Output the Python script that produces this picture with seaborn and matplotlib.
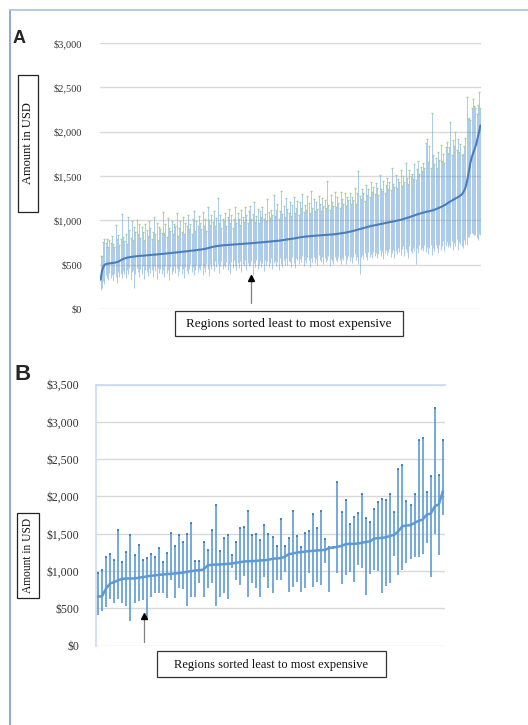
import numpy as np
import pandas as pd
import matplotlib
matplotlib.use("Agg")
import matplotlib.pyplot as plt
import seaborn as sns
from matplotlib.patches import Rectangle

# ---- panel A: 306 regions, mean cost (sorted) with spread up to max / down to min
mean_a = [
    330, 420, 470, 495, 505, 510, 512, 514, 516, 518,
    520, 522, 524, 528, 533, 540, 548, 556, 563, 569,
    574, 578, 581, 584, 586, 588, 590, 592, 594, 596,
    597, 598, 600, 601, 602, 603, 604, 606, 607, 608,
    609, 610, 611, 612, 614, 615, 617, 618, 619, 620,
    622, 623, 625, 626, 628, 629, 631, 632, 634, 635,
    637, 638, 640, 641, 643, 644, 646, 647, 649, 651,
    653, 655, 656, 658, 659, 661, 662, 664, 666, 667,
    669, 671, 673, 675, 678, 682, 686, 690, 694, 698,
    701, 704, 707, 709, 711, 713, 715, 716, 718, 719,
    720, 721, 722, 723, 724, 725, 726, 727, 728, 729,
    730, 731, 732, 733, 734, 735, 736, 737, 739, 740,
    741, 742, 743, 745, 746, 747, 748, 749, 751, 752,
    753, 754, 756, 757, 758, 760, 761, 762, 764, 765,
    766, 768, 769, 770, 772, 773, 775, 777, 779, 781,
    783, 785, 787, 789, 791, 794, 797, 800, 803, 806,
    809, 811, 813, 814, 816, 817, 819, 820, 821, 823,
    824, 825, 826, 827, 828, 829, 830, 831, 832, 833,
    834, 835, 836, 837, 838, 839, 840, 842, 843, 845,
    847, 849, 851, 853, 855, 857, 859, 862, 865, 868,
    871, 874, 877, 881, 885, 889, 893, 897, 901, 905,
    909, 913, 917, 921, 925, 929, 932, 935, 938, 941,
    944, 947, 950, 953, 956, 959, 962, 965, 968, 971,
    974, 977, 980, 982, 985, 987, 990, 993, 996, 999,
    1002, 1006, 1010, 1014, 1018, 1022, 1026, 1031, 1036, 1041,
    1046, 1050, 1055, 1060, 1065, 1070, 1075, 1079, 1083, 1087,
    1091, 1094, 1097, 1100, 1103, 1106, 1110, 1114, 1119, 1124,
    1130, 1136, 1142, 1148, 1155, 1162, 1169, 1177, 1186, 1196,
    1206, 1214, 1222, 1230, 1238, 1246, 1254, 1262, 1270, 1280,
    1292, 1310, 1335, 1370, 1420, 1490, 1570, 1650, 1710, 1750,
    1790, 1830, 1880, 1940, 2000, 2070,
]
# distance from mean up to the max of each region
up_a = [
    270, 180, 290, 300, 240, 280, 190, 260, 230, 300,
    210, 180, 420, 260, 300, 180, 240, 510, 250, 200,
    270, 150, 460, 310, 220, 400, 190, 330, 280, 410,
    250, 360, 200, 320, 270, 170, 350, 290, 220, 380,
    300, 180, 260, 420, 230, 350, 160, 310, 280, 240,
    470, 230, 330, 190, 400, 280, 250, 360, 210, 320,
    300, 440, 180, 270, 350, 230, 390, 200, 320, 280,
    410, 250, 300, 190, 360, 440, 220, 330, 270, 380,
    300, 230, 420, 260, 340, 200, 470, 310, 250, 360,
    280, 400, 230, 320, 540, 260, 350, 200, 300, 270,
    360, 220, 310, 400, 250, 330, 190, 290, 420, 240,
    350, 280, 210, 380, 300, 250, 410, 320, 230, 360,
    420, 270, 330, 460, 240, 300, 380, 220, 350, 290,
    400, 260, 310, 230, 480, 330, 270, 360, 300, 520,
    280, 350, 420, 240, 330, 560, 300, 380, 260, 470,
    350, 300, 420, 260, 380, 470, 290, 340, 410, 250,
    400, 330, 480, 280, 360, 300, 450, 370, 260, 510,
    320, 410, 280, 380, 300, 440, 350, 270, 420, 330,
    390, 300, 610, 340, 280, 450, 370, 320, 480, 300,
    420, 350, 290, 470, 380, 330, 450, 300, 400, 360,
    440, 310, 390, 350, 480, 300, 420, 660, 370, 330,
    450, 390, 300, 480, 360, 420, 330, 500, 380, 440,
    350, 470, 410, 330, 560, 400, 370, 480, 340, 430,
    500, 380, 450, 360, 600, 420, 390, 520, 370, 470,
    430, 560, 380, 490, 410, 620, 450, 380, 530, 460,
    480, 420, 580, 390, 510, 600, 450, 520, 470, 560,
    500, 780, 820, 560, 730, 480, 1100, 620, 520, 580,
    460, 640, 540, 700, 510, 590, 480, 650, 700, 560,
    620, 900, 520, 680, 600, 750, 540, 660, 500, 580,
    450, 440, 500, 560, 970, 650, 580, 480, 560, 620,
    500, 440, 320, 360, 450, 200,
]
# distance from mean down to the min of each region
dn_a = [
    120, 180, 150, 210, 120, 160, 190, 110, 170, 140,
    200, 130, 160, 240, 120, 180, 150, 210, 130, 170,
    230, 140, 190, 120, 260, 170, 150, 360, 200, 130,
    180, 240, 150, 210, 120, 270, 160, 190, 230, 140,
    200, 170, 250, 130, 190, 280, 150, 210, 170, 230,
    180, 260, 140, 220, 190, 300, 160, 240, 200, 150,
    230, 180, 270, 210, 160, 250, 190, 300, 170, 220,
    260, 200, 150, 240, 190, 280, 220, 170, 250, 200,
    230, 180, 290, 210, 260, 170, 230, 320, 190, 250,
    210, 280, 170, 240, 200, 310, 230, 180, 270, 220,
    250, 190, 280, 220, 330, 200, 260, 170, 240, 290,
    210, 270, 190, 320, 230, 250, 180, 300, 220, 260,
    240, 200, 360, 230, 270, 190, 300, 250, 210, 280,
    230, 330, 200, 260, 220, 290, 240, 190, 310, 250,
    220, 280, 240, 330, 200, 260, 300, 230, 280, 210,
    290, 240, 260, 320, 210, 270, 340, 230, 250, 300,
    240, 280, 220, 330, 260, 300, 230, 270, 350, 250,
    290, 240, 310, 260, 330, 220, 280, 300, 250, 320,
    260, 310, 280, 240, 350, 270, 300, 330, 260, 290,
    320, 260, 300, 340, 280, 310, 250, 350, 300, 270,
    330, 290, 360, 300, 270, 340, 310, 390, 510, 320,
    300, 350, 280, 330, 370, 290, 340, 310, 360, 300,
    350, 310, 380, 330, 290, 360, 320, 400, 340, 300,
    370, 330, 300, 390, 350, 320, 410, 340, 380, 310,
    360, 400, 330, 300, 420, 350, 380, 460, 330, 390,
    420, 360, 400, 550, 380, 440, 350, 410, 390, 430,
    370, 450, 400, 480, 420, 380, 500, 430, 460, 400,
    440, 510, 420, 480, 450, 400, 520, 470, 430, 500,
    480, 520, 450, 560, 490, 530, 470, 600, 510, 550,
    580, 620, 560, 640, 700, 680, 760, 800, 850, 900,
    950, 1000, 1080, 1160, 1150, 1230,
]

# ---- panel B: 86 regions, mean / max / min
mean_b = [656, 665, 767, 834, 852, 879, 896, 901, 901, 901,
          910, 919, 928, 937, 941, 950, 954, 959, 963, 968,
          972, 981, 990, 999, 1008, 1012, 1021, 1075, 1084, 1088,
          1088, 1093, 1097, 1102, 1111, 1119, 1128, 1133, 1133, 1137,
          1142, 1146, 1151, 1164, 1169, 1173, 1191, 1227, 1235, 1249,
          1253, 1262, 1267, 1271, 1276, 1280, 1284, 1311, 1316, 1325,
          1338, 1360, 1365, 1365, 1369, 1378, 1392, 1396, 1436, 1441,
          1445, 1454, 1472, 1485, 1534, 1601, 1610, 1615, 1646, 1673,
          1690, 1757, 1771, 1869, 1896, 2074]
max_b = [977, 1021, 1182, 1235, 1155, 1557, 1115, 1258, 1485, 1209,
         1356, 1142, 1173, 1235, 1191, 1311, 1128, 1240, 1516, 1342,
         1490, 1391, 1494, 1646, 1137, 1137, 1391, 1280, 1548, 1891,
         1271, 1449, 1485, 1209, 1391, 1583, 1588, 1806, 1485, 1494,
         1423, 1623, 1494, 1458, 1338, 1704, 1338, 1441, 1802, 1467,
         1316, 1512, 1534, 1762, 1574, 1806, 1432, 1320, 1320, 2199,
         1793, 1949, 1637, 1726, 1780, 2029, 1717, 1655, 1829, 1927,
         1971, 1958, 2029, 1793, 2373, 2426, 1945, 1887, 2038, 2761,
         2783, 2061, 2270, 3180, 2284, 2752]
min_b = [410, 468, 522, 620, 566, 629, 566, 531, 330, 566,
         598, 607, 343, 656, 709, 709, 700, 633, 879, 633,
         776, 758, 535, 656, 656, 834, 656, 776, 834, 535,
         656, 700, 629, 1035, 879, 812, 932, 656, 843, 776,
         656, 923, 767, 709, 879, 879, 990, 723, 789, 856,
         723, 767, 968, 789, 856, 812, 1102, 723, 1290, 968,
         821, 945, 990, 856, 1079, 1035, 678, 959, 1012, 1003,
         709, 798, 843, 1200, 945, 1021, 1102, 1168, 1191, 1182,
         1235, 1378, 914, 1503, 1209, 1750]

yticks_a = [0, 500, 1000, 1500, 2000, 2500, 3000]
yticks_b = [0, 500, 1000, 1500, 2000, 2500, 3000, 3500]
ylabel = "Amount in USD"
xlabel = "Regions sorted least to most expensive"

df_a = pd.DataFrame({"region": np.arange(len(mean_a)), "mean": mean_a})
df_a["hi"] = df_a["mean"] + np.array(up_a)
df_a["lo"] = df_a["mean"] - np.array(dn_a)

df_b = pd.DataFrame({"region": np.arange(len(mean_b)), "mean": mean_b,
                     "hi": max_b, "lo": min_b})

sns.set_style("white")
plt.rcParams["font.family"] = ["Liberation Serif", "DejaVu Serif"]

W, H = 528, 725
fig = plt.figure(figsize=(W / 100, H / 100), dpi=100)


def money(v):
    return "${:,}".format(v)


# ---------- panel A
ax_a = fig.add_axes([100 / W, 1 - 309 / H, 381 / W, 266 / H])
ax_a.vlines(df_a["region"], df_a["lo"], df_a["hi"], color="#5b9bd5", lw=0.45, alpha=0.8, zorder=2)
ax_a.scatter(df_a["region"], df_a["hi"], marker="_", s=4, color="#a9d18e", lw=1, zorder=3)
sns.lineplot(data=df_a, x="region", y="mean", ax=ax_a, color="#4a7ebb", lw=1.5, zorder=4)
ax_a.set_xlim(-0.5, len(mean_a) - 0.5)
ax_a.set_ylim(0, 3000)
ax_a.set_yticks(yticks_a)
ax_a.set_yticklabels([money(v) for v in yticks_a])
ax_a.set_xticks([])
ax_a.set_xlabel("")
ax_a.set_ylabel("")
ax_a.yaxis.grid(True, color="#d9d9d9", lw=1)
ax_a.set_axisbelow(True)
for s in ax_a.spines.values():
    s.set_visible(False)
ax_a.tick_params(axis="y", length=0, pad=13, labelsize=7.5, labelcolor="#333333")
ax_a.patch.set_alpha(0)

# ---------- panel B
ax_b = fig.add_axes([96 / W, 1 - 645.7 / H, 349 / W, 261.2 / H])
ax_b.vlines(df_b["region"], df_b["lo"], df_b["hi"], color="#5b9bd5", lw=1.2, zorder=2)
ax_b.scatter(df_b["region"], df_b["hi"], marker="_", s=2.5, color="#2e75b6", lw=1.2, zorder=3)
sns.lineplot(data=df_b, x="region", y="mean", ax=ax_b, color="#5b9bd5", lw=1.8, zorder=4)
ax_b.set_xlim(-0.5, len(mean_b) - 0.5)
ax_b.set_ylim(0, 3500)
ax_b.set_yticks(yticks_b)
ax_b.set_yticklabels([money(v) for v in yticks_b])
ax_b.set_xticks([])
ax_b.set_xlabel("")
ax_b.set_ylabel("")
ax_b.yaxis.grid(True, color="#d9d9d9", lw=1)
ax_b.set_axisbelow(True)
for name, s in ax_b.spines.items():
    s.set_visible(name in ("left", "top"))
    s.set_color("#c9dbf0")
    s.set_linewidth(1.2)
ax_b.tick_params(axis="y", length=0, pad=12, labelsize=8.5, labelcolor="#333333")
ax_b.patch.set_alpha(0)

# ---------- overlay in pixel coordinates for page decorations
ov = fig.add_axes([0, 0, 1, 1])
ov.set_xlim(0, W)
ov.set_ylim(H, 0)
ov.axis("off")
ov.patch.set_alpha(0)

ov.plot([9.5, 9.5], [10, H], color="#8eaadb", lw=1.4)
ov.plot([9.5, W], [10, 10], color="#a9c0e6", lw=1.2)

ov.text(13, 43, "A", fontsize=13, fontweight="bold", family="Liberation Sans", va="baseline")
ov.text(15, 380, "B", fontsize=16, fontweight="bold", family="Liberation Sans", va="baseline")

# y label boxes
for (x0, y0, x1, y1, fs) in [(17.7, 75, 37.7, 211.7, 9), (17, 513, 39, 598, 8.3)]:
    ov.add_patch(Rectangle((x0, y0), x1 - x0, y1 - y0, fill=False, ec="#222222", lw=0.9))
    ov.text((x0 + x1) / 2 + 0.5, (y0 + y1) / 2, ylabel, rotation=90, ha="center", va="center",
            fontsize=fs, color="#111111")

# x label boxes
for (x0, y0, x1, y1, fs) in [(175, 311, 403, 335.5, 9.5), (157, 651, 386, 676.7, 9)]:
    ov.add_patch(Rectangle((x0, y0), x1 - x0, y1 - y0, fill=False, ec="#333333", lw=0.9))
    ov.text((x0 + x1) / 2, (y0 + y1) / 2 + 1, xlabel, ha="center", va="center",
            fontsize=fs, color="#111111")

# pointer arrows
for (x, tip, tail) in [(251, 275, 303), (144.3, 613.3, 642)]:
    ov.plot([x, x], [tip + 4, tail], color="#808080", lw=0.9)
    ov.plot([x], [tip + 3], marker="^", ms=5, color="black")

fig.savefig("out.png", dpi=100)
